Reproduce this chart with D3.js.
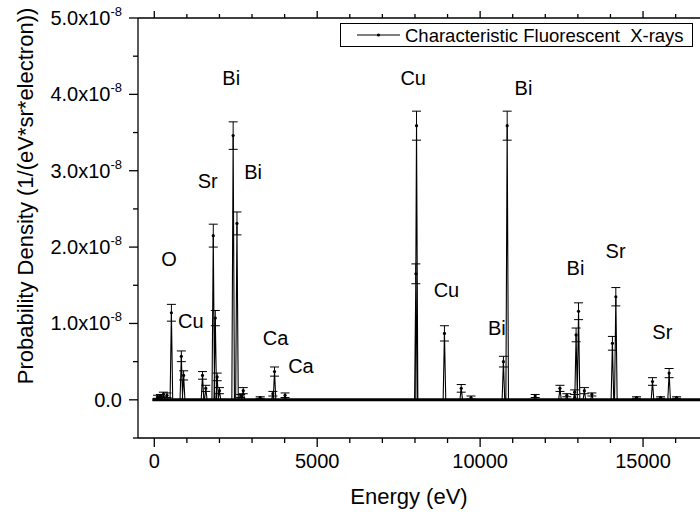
<!DOCTYPE html>
<html>
<head>
<meta charset="utf-8">
<script src="https://cdn.jsdelivr.net/npm/d3@7/dist/d3.min.js"></script>
<style>
  html, body { margin: 0; padding: 0; background: #fff; }
  svg { display: block; }
  text { font-family: "Liberation Sans", Arial, sans-serif; fill: #000; }
</style>
</head>
<body>
<svg id="chart" width="700" height="516"></svg>
<script>
// ---- data (values in units of 1e-8 1/(eV*sr*electron)) ----
const peakEnergy = [100, 190, 280, 390, 525, 830, 900, 1480, 1580, 1810, 1872, 1930, 2000,
  2420, 2537, 2650, 2730, 3250, 3640, 3690, 4013,
  8028, 8048, 8905, 9420, 9720,
  10715, 10830, 11690, 12450, 12660, 12900, 12945, 13020, 13200, 13430,
  14060, 14165, 14800, 15290, 15540, 15800, 16030];
const peakValue = [0.04, 0.05, 0.07, 0.06, 1.14, 0.57, 0.32, 0.32, 0.15, 2.15, 1.07, 0.30, 0.12,
  3.46, 2.31, 0.05, 0.12, 0.03, 0.08, 0.37, 0.06,
  1.65, 3.59, 0.87, 0.15, 0.03,
  0.50, 3.59, 0.05, 0.15, 0.06, 0.10, 0.85, 1.16, 0.12, 0.07,
  0.74, 1.35, 0.03, 0.24, 0.03, 0.35, 0.03];
const peakError = [0.02, 0.02, 0.03, 0.03, 0.11, 0.07, 0.06, 0.05, 0.04, 0.15, 0.10, 0.05, 0.04,
  0.18, 0.15, 0.02, 0.04, 0.01, 0.03, 0.06, 0.03,
  0.13, 0.19, 0.10, 0.05, 0.02,
  0.07, 0.19, 0.02, 0.04, 0.02, 0.03, 0.09, 0.11, 0.04, 0.02,
  0.09, 0.12, 0.01, 0.05, 0.01, 0.06, 0.01];
const spectrumRange = [0, 20000];

const labelText = ["O", "Cu", "Sr", "Bi", "Bi", "Ca", "Ca", "Cu", "Cu", "Bi", "Bi", "Bi", "Sr", "Sr"];
const labelEnergy = [451, 1120, 1638, 2362, 3033, 3723, 4500, 7945, 8966, 10512, 11331, 12926, 14157, 15592];
const labelValue = [1.75, 0.94, 2.77, 4.12, 2.89, 0.72, 0.35, 4.12, 1.34, 0.85, 3.99, 1.64, 1.86, 0.79];

const xTicks = [0, 5000, 10000, 15000];
const xMinorTicks = d3.range(0, 18001, 1000);
const yTicks = [0, 1, 2, 3, 4, 5];
const yMinorTicks = [-0.5, 0.5, 1.5, 2.5, 3.5, 4.5];
const legendLabel = "Characteristic Fluorescent\u00A0 X-rays";
const xTitle = "Energy (eV)";
const yTitle = "Probability Density (1/(eV*sr*electron))";

// ---- layout ----
const svg = d3.select("#chart");
const plotLeft = 138, plotTop = 18, plotBottom = 438;
const x = d3.scaleLinear().domain([-500, 18000]).range([plotLeft, 154 + 18000 * 0.0326]);
const y = d3.scaleLinear().domain([-0.5, 5]).range([plotBottom, plotTop]);
const plotRight = x.range()[1];

const peaks = peakEnergy.map((e, i) => ({ e, v: peakValue[i], err: peakError[i] }));

const g = svg.append("g");

// baseline of spectrum
g.append("line")
  .attr("x1", x(spectrumRange[0]) - 2).attr("x2", x(spectrumRange[1]))
  .attr("y1", y(0)).attr("y2", y(0))
  .attr("stroke", "#000").attr("stroke-width", 3);

// spikes
const halfW = 40;
const line = d3.line().x(d => x(d[0])).y(d => y(d[1]));
const pathPts = [[spectrumRange[0], 0]];
peaks.forEach(p => { pathPts.push([p.e - halfW, 0], [p.e, p.v], [p.e + halfW, 0]); });
pathPts.push([spectrumRange[1], 0]);
g.append("path").attr("d", line(pathPts))
  .attr("fill", "none").attr("stroke", "#000").attr("stroke-width", 1.1)
  .attr("stroke-linejoin", "miter");

// error bars
const cap = 4.5;
const eb = g.append("g").attr("stroke", "#000").attr("stroke-width", 1);
peaks.forEach(p => {
  const cx = x(p.e);
  eb.append("line").attr("x1", cx).attr("x2", cx).attr("y1", y(p.v - p.err)).attr("y2", y(p.v + p.err));
  eb.append("line").attr("x1", cx - cap).attr("x2", cx + cap).attr("y1", y(p.v + p.err)).attr("y2", y(p.v + p.err));
  eb.append("line").attr("x1", cx - cap).attr("x2", cx + cap).attr("y1", y(p.v - p.err)).attr("y2", y(p.v - p.err));
});
// markers
g.selectAll("circle.pt").data(peaks).enter().append("circle")
  .attr("cx", d => x(d.e)).attr("cy", d => y(d.v)).attr("r", 1.6).attr("fill", "#000");

// element labels
g.selectAll("text.lbl").data(labelText).enter().append("text")
  .attr("x", (d, i) => x(labelEnergy[i])).attr("y", (d, i) => y(labelValue[i]))
  .attr("text-anchor", "middle").attr("font-size", 20).text(d => d);

// ---- axes ----
const ax = svg.append("g").attr("stroke", "#000").attr("stroke-width", 1.3);
ax.append("line").attr("x1", plotLeft).attr("x2", plotRight).attr("y1", plotBottom).attr("y2", plotBottom);
ax.append("line").attr("x1", plotLeft).attr("x2", plotRight).attr("y1", plotTop).attr("y2", plotTop);
ax.append("line").attr("x1", plotLeft).attr("x2", plotLeft).attr("y1", plotTop).attr("y2", plotBottom);

xMinorTicks.forEach(t => {
  const major = xTicks.includes(t);
  ax.append("line").attr("x1", x(t)).attr("x2", x(t)).attr("y1", plotBottom).attr("y2", plotBottom + (major ? 9 : 5));
  ax.append("line").attr("x1", x(t)).attr("x2", x(t)).attr("y1", plotTop).attr("y2", plotTop - (major ? 7 : 4));
});
yTicks.forEach(t => {
  ax.append("line").attr("x1", plotLeft).attr("x2", plotLeft - 9).attr("y1", y(t)).attr("y2", y(t));
});
yMinorTicks.forEach(t => {
  ax.append("line").attr("x1", plotLeft).attr("x2", plotLeft - 5).attr("y1", y(t)).attr("y2", y(t));
});

svg.selectAll("text.xt").data(xTicks).enter().append("text")
  .attr("x", d => x(d)).attr("y", 468).attr("text-anchor", "middle").attr("font-size", 20)
  .text(d => d);

yTicks.forEach(t => {
  const tx = svg.append("text").attr("x", 122).attr("y", y(t) + 7).attr("text-anchor", "end").attr("font-size", 20);
  if (t === 0) { tx.text("0.0"); }
  else {
    tx.append("tspan").text(t.toFixed(1) + "x10");
    tx.append("tspan").attr("font-size", 13).attr("dy", -9).text("-8");
  }
});

svg.append("text").attr("x", (plotLeft + 680) / 2).attr("y", 504).attr("text-anchor", "middle")
  .attr("font-size", 22).text(xTitle);
svg.append("text").attr("transform", "translate(33,196) rotate(-90)").attr("text-anchor", "middle")
  .attr("font-size", 22).text(yTitle);

// ---- legend ----
const lg = svg.append("g");
lg.append("rect").attr("x", 340.5).attr("y", 23.5).attr("width", 352).attr("height", 23)
  .attr("fill", "#fff").attr("stroke", "#000").attr("stroke-width", 1);
lg.append("line").attr("x1", 357).attr("x2", 400).attr("y1", 35).attr("y2", 35).attr("stroke", "#000").attr("stroke-width", 1.1);
lg.append("circle").attr("cx", 378.5).attr("cy", 35).attr("r", 1.6).attr("fill", "#000");
lg.append("text").attr("x", 405).attr("y", 41.5).attr("font-size", 18.5).text(legendLabel);
</script>
</body>
</html>
